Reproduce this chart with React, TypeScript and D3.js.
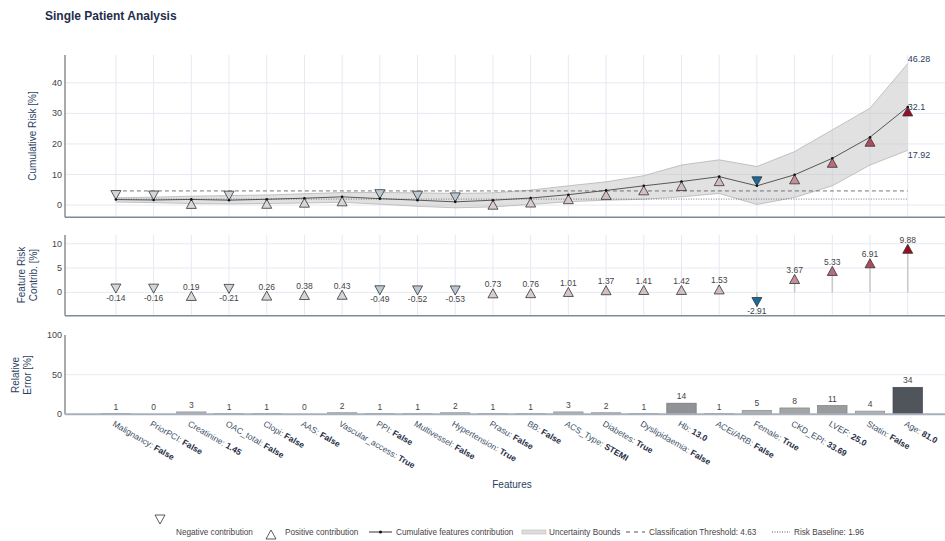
import React from "react";
import * as d3 from "d3";

const featureNames = [
  "Malignancy", "PriorPCI", "Creatinine", "OAC_total", "Clopi", "AAS",
  "Vascular_access", "PPI", "Multivessel", "Hypertension", "Prasu", "BB",
  "ACS_Type", "Diabetes", "Dyslipidaemia", "Hb", "ACEi/ARB", "Female",
  "CKD_EPI", "LVEF", "Statin", "Age",
];
const featureValues = [
  "False", "False", "1.45", "False", "False", "False", "True", "False", "False",
  "True", "False", "False", "STEMI", "True", "False", "13.0", "False", "True",
  "33.69", "25.0", "False", "81.0",
];
const contributions = [
  -0.14, -0.16, 0.19, -0.21, 0.26, 0.38, 0.43, -0.49, -0.52, -0.53, 0.73, 0.76,
  1.01, 1.37, 1.41, 1.42, 1.53, -2.91, 3.67, 5.33, 6.91, 9.88,
];
const cumulativeRisk = [
  1.8, 1.65, 1.85, 1.6, 1.9, 2.25, 2.7, 2.1, 1.6, 1.05, 1.6, 2.3, 3.4, 4.8,
  6.3, 7.7, 9.3, 6.3, 9.9, 15.3, 22.2, 32.1,
];
const upperBound = [
  2.4, 2.6, 2.9, 3.1, 3.3, 3.7, 4.1, 4.1, 4.0, 3.8, 4.0, 4.9, 6.3, 7.6, 9.6,
  13.1, 14.8, 12.6, 17.5, 24.6, 31.7, 46.28,
];
const lowerBound = [
  1.0, 0.8, 0.5, 0.4, 0.5, 0.7, 0.9, 0.3, -0.4, -0.9, -0.6, 0.2, 1.1, 1.6, 1.9,
  2.7, 3.8, 0.2, 2.5, 6.3, 13.1, 17.92,
];
const relativeError = [1, 0, 3, 1, 1, 0, 2, 1, 1, 2, 1, 1, 3, 2, 1, 14, 1, 5, 8, 11, 4, 34];
const riskTicks = [0, 10, 20, 30, 40];
const contribTicks = [0, 5, 10];
const errorTicks = [0, 50, 100];
const threshold = 4.63;
const riskBaseline = 1.96;

const FONT = '"Liberation Sans", Arial, sans-serif';
const GRID = "#e6e9f3";
const TICK = "#444";
const NAVY = "#2a3f5f";

export default function App() {
  const W = 945, H = 541;
  const x = d3.scaleLinear().domain([-1.35, 22.36]).range([65, 959]);
  const step = x(1) - x(0);
  const yTop = d3.scaleLinear().domain([-4, 49.1]).range([217.3, 55]);
  const yMid = d3.scaleLinear().domain([-4.8, 11.8]).range([315.7, 235]);
  const yBot = d3.scaleLinear().domain([0, 100]).range([414.3, 335]);
  const color = d3
    .scaleLinear<string>()
    .domain([-2.91, 0, 9.88])
    .range(["#1a6a9e", "#dcdcdc", "#9b0d24"])
    .interpolate(d3.interpolateRgb);
  const barColor = d3.scaleLinear<string>().domain([0, 34]).range(["#bdbdbd", "#50545b"]);
  const idx = d3.range(featureNames.length);
  const last = idx.length - 1;

  const band = d3.area<number>().x((i) => x(i)).y0((i) => yTop(lowerBound[i])).y1((i) => yTop(upperBound[i]));
  const upLine = d3.line<number>().x((i) => x(i)).y((i) => yTop(upperBound[i]));
  const loLine = d3.line<number>().x((i) => x(i)).y((i) => yTop(lowerBound[i]));
  const cumLine = d3.line<number>().x((i) => x(i)).y((i) => yTop(cumulativeRisk[i]));

  const tw = 10, th = 9;
  const triUp = (cx: number, cy: number, w = tw, h = th) =>
    `M${cx},${cy}L${cx + w / 2},${cy + h}L${cx - w / 2},${cy + h}Z`;
  const triDown = (cx: number, cy: number, w = tw, h = th) =>
    `M${cx},${cy}L${cx + w / 2},${cy - h}L${cx - w / 2},${cy - h}Z`;
  const tri = (v: number, cx: number, cy: number) => (v >= 0 ? triUp(cx, cy) : triDown(cx, cy));

  const barW = step * 0.78;

  const legendY = 535;

  return (
    <svg width={W} height={H} style={{ position: "absolute", left: 0, top: 0, background: "#fff" }} fontFamily={FONT}>
      <rect width={W} height={H} fill="#fff" />
      <text x={45} y={20} fontSize={12} fontWeight="bold" fill="#1f2d4d">Single Patient Analysis</text>

      {/* ---------- Top panel ---------- */}
      <g>
        {riskTicks.map((t) => (
          <line key={"hg" + t} x1={65} x2={W} y1={yTop(t)} y2={yTop(t)} stroke={GRID} />
        ))}
        {idx.map((i) => (
          <line key={"vg" + i} x1={x(i)} x2={x(i)} y1={55} y2={217.3} stroke={GRID} />
        ))}
        <path d={band(idx) || ""} fill="rgba(195,195,195,0.5)" stroke="none" />
        <path d={upLine(idx) || ""} fill="none" stroke="#b5b5b5" strokeWidth={0.8} />
        <path d={loLine(idx) || ""} fill="none" stroke="#b5b5b5" strokeWidth={0.8} />
        <line x1={x(0)} x2={x(last)} y1={yTop(threshold)} y2={yTop(threshold)} stroke="#555" strokeWidth={0.8} strokeDasharray="4,3" />
        <line x1={x(0)} x2={x(last)} y1={yTop(riskBaseline)} y2={yTop(riskBaseline)} stroke="#555" strokeWidth={0.8} strokeDasharray="1,1.5" />
        <path d={cumLine(idx) || ""} fill="none" stroke="#333" strokeWidth={0.8} />
        {idx.map((i) => (
          <path key={"tm" + i} d={tri(contributions[i], x(i), yTop(cumulativeRisk[i]))} fill={color(contributions[i])} stroke="#333" strokeWidth={0.8} />
        ))}
        {idx.map((i) => (
          <circle key={"td" + i} cx={x(i)} cy={yTop(cumulativeRisk[i])} r={1.3} fill="#111" />
        ))}
        <text x={x(last)} y={yTop(upperBound[last]) - 2} fontSize={9} fill={NAVY}>{upperBound[last]}</text>
        <text x={x(last)} y={yTop(cumulativeRisk[last]) + 3} fontSize={9} fill={NAVY}>{cumulativeRisk[last]}</text>
        <text x={x(last)} y={yTop(lowerBound[last]) + 7.5} fontSize={9} fill={NAVY}>{lowerBound[last]}</text>
        <line x1={65} x2={65} y1={55} y2={217.3} stroke="#555" strokeWidth={1} />
        <line x1={65} x2={W} y1={217.3} y2={217.3} stroke="#7d8a99" strokeWidth={1.4} />
        {riskTicks.map((t) => (
          <text key={"tt" + t} x={62} y={yTop(t) + 3} fontSize={9} textAnchor="end" fill={TICK}>{t}</text>
        ))}
        <text transform={`translate(36,${(55 + 217) / 2}) rotate(-90)`} fontSize={10} textAnchor="middle" fill={NAVY}>Cumulative Risk [%]</text>
      </g>

      {/* ---------- Middle panel ---------- */}
      <g>
        {contribTicks.map((t) => (
          <line key={"mhg" + t} x1={65} x2={W} y1={yMid(t)} y2={yMid(t)} stroke={GRID} />
        ))}
        {idx.map((i) => (
          <line key={"mvg" + i} x1={x(i)} x2={x(i)} y1={235} y2={315.7} stroke={GRID} />
        ))}
        {idx.map((i) => (
          <line key={"ms" + i} x1={x(i)} x2={x(i)} y1={yMid(0)} y2={yMid(contributions[i])} stroke="#c8c8c8" strokeWidth={1.5} />
        ))}
        {idx.map((i) => (
          <path key={"mm" + i} d={tri(contributions[i], x(i), yMid(contributions[i]))} fill={color(contributions[i])} stroke="#333" strokeWidth={0.8} />
        ))}
        {idx.map((i) => (
          <text
            key={"ml" + i}
            x={x(i)}
            y={contributions[i] >= 0 ? yMid(contributions[i]) - 1.5 : yMid(contributions[i]) + 7.5}
            fontSize={8.5}
            textAnchor="middle"
            fill="#444"
          >
            {contributions[i].toFixed(2)}
          </text>
        ))}
        <line x1={65} x2={65} y1={235} y2={315.7} stroke="#555" strokeWidth={1} />
        <line x1={65} x2={W} y1={315.7} y2={315.7} stroke="#7d8a99" strokeWidth={1.4} />
        {contribTicks.map((t) => (
          <text key={"mt" + t} x={62} y={yMid(t) + 3} fontSize={9} textAnchor="end" fill={TICK}>{t}</text>
        ))}
        <text transform={`translate(25,275) rotate(-90)`} fontSize={10} textAnchor="middle" fill={NAVY}>Feature Risk</text>
        <text transform={`translate(37,275) rotate(-90)`} fontSize={10} textAnchor="middle" fill={NAVY}>Contrib. [%]</text>
      </g>

      {/* ---------- Bottom panel ---------- */}
      <g>
        {errorTicks.filter((t) => t > 0 && t < 100).map((t) => (
          <line key={"bhg" + t} x1={65} x2={W} y1={yBot(t)} y2={yBot(t)} stroke={GRID} />
        ))}
        {idx.map((i) => (
          <rect
            key={"bar" + i}
            x={x(i) - barW / 2}
            y={yBot(relativeError[i])}
            width={barW}
            height={yBot(0) - yBot(relativeError[i])}
            fill={barColor(relativeError[i])}
            stroke={d3.color(barColor(relativeError[i]))!.darker(0.6).toString()}
            strokeWidth={0.7}
          />
        ))}
        {idx.map((i) => (
          <text key={"bl" + i} x={x(i)} y={yBot(relativeError[i]) - 4} fontSize={8.5} textAnchor="middle" fill="#444">
            {relativeError[i]}
          </text>
        ))}
        <line x1={65} x2={65} y1={335} y2={414.3} stroke="#555" strokeWidth={1} />
        <line x1={65} x2={W} y1={414.3} y2={414.3} stroke="#a8b0bb" strokeWidth={2} />
        {errorTicks.map((t) => (
          <text key={"bt" + t} x={62} y={yBot(t) + 3} fontSize={9} textAnchor="end" fill={TICK}>{t}</text>
        ))}
        <text transform={`translate(19,375) rotate(-90)`} fontSize={10} textAnchor="middle" fill={NAVY}>Relative</text>
        <text transform={`translate(31,375) rotate(-90)`} fontSize={10} textAnchor="middle" fill={NAVY}>Error [%]</text>
        {idx.map((i) => (
          <text key={"xl" + i} transform={`translate(${x(i) - 4},425.5) rotate(30)`} fontSize={8.5} fill="#3d4f66">
            {featureNames[i]}:{" "}
            <tspan fontWeight="bold" fill="#1f2d45">{featureValues[i]}</tspan>
          </text>
        ))}
        <text x={512} y={488} fontSize={10} textAnchor="middle" fill={NAVY}>Features</text>
      </g>

      {/* ---------- Legend ---------- */}
      <g fontSize={8.2} fill="#444">
        <path d={triDown(160, 524)} fill="#fff" stroke="#333" strokeWidth={0.8} />
        <text x={176} y={legendY}>Negative contribution</text>
        <path d={triUp(271, 530)} fill="#fff" stroke="#333" strokeWidth={0.8} />
        <text x={285} y={legendY}>Positive contribution</text>
        <line x1={369} x2={392} y1={legendY - 3} y2={legendY - 3} stroke="#333" strokeWidth={1} />
        <circle cx={380.5} cy={legendY - 3} r={1.5} fill="#111" />
        <text x={396} y={legendY}>Cumulative features contribution</text>
        <rect x={522} y={legendY - 5} width={24} height={4} fill="#ddd" stroke="#bbb" strokeWidth={0.6} />
        <text x={549} y={legendY}>Uncertainty Bounds</text>
        <line x1={626} x2={645} y1={legendY - 3} y2={legendY - 3} stroke="#555" strokeWidth={1} strokeDasharray="4,4" />
        <text x={649} y={legendY}>Classification Threshold: {threshold}</text>
        <line x1={772} x2={790} y1={legendY - 3} y2={legendY - 3} stroke="#555" strokeWidth={1} strokeDasharray="1,1.5" />
        <text x={794} y={legendY}>Risk Baseline: {riskBaseline}</text>
      </g>
    </svg>
  );
}
